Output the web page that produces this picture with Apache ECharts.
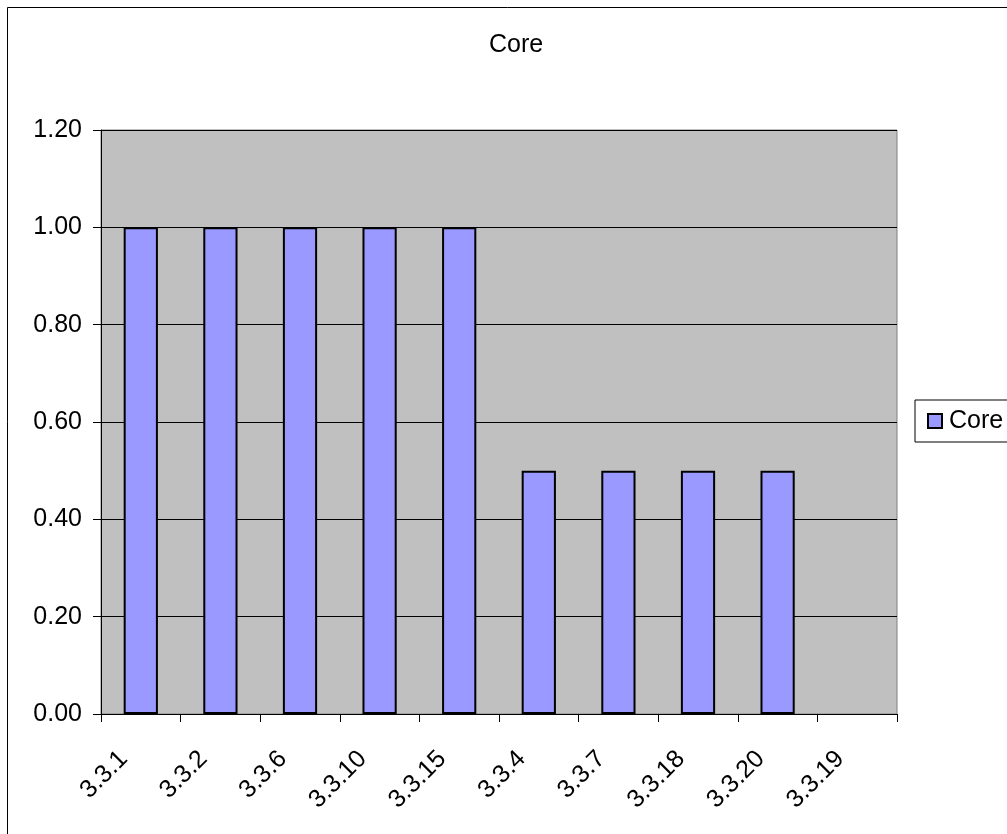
<!DOCTYPE html>
<html>
<head>
<meta charset="utf-8">
<script src="https://cdn.jsdelivr.net/npm/echarts@6/dist/echarts.min.js"></script>
<style>
html,body{margin:0;padding:0;background:#fff;}
#chart{width:1007px;height:834px;}
</style>
</head>
<body>
<div id="chart"></div>
<script>
const categories = ['3.3.1','3.3.2','3.3.6','3.3.10','3.3.15','3.3.4','3.3.7','3.3.18','3.3.20','3.3.19'];
const coreValues = [1.00, 1.00, 1.00, 1.00, 1.00, 0.50, 0.50, 0.50, 0.50, null];
const seriesName = 'Core';
const chartTitle = 'Core';

const FONT = '"Liberation Sans", Arial, sans-serif';
const chart = echarts.init(document.getElementById('chart'), null, {renderer: 'canvas'});
chart.setOption({
  animation: false,
  backgroundColor: '#ffffff',
  graphic: [{
    type: 'rect',
    shape: {x: 7.5, y: 7.5, width: 1200, height: 1000},
    style: {fill: 'none', stroke: '#000', lineWidth: 1},
    z: -1
  }],
  title: {
    text: chartTitle,
    left: 484,
    top: 28,
    textStyle: {fontFamily: FONT, fontSize: 25, fontWeight: 'normal', color: '#000'}
  },
  legend: {
    data: [seriesName],
    left: 915,
    top: 400,
    orient: 'vertical',
    padding: [7, 40, 7, 12],
    borderColor: '#000',
    borderWidth: 1,
    backgroundColor: '#fff',
    itemWidth: 14,
    itemHeight: 14,
    itemGap: 0,
    icon: 'rect',
    textStyle: {fontFamily: FONT, fontSize: 25, color: '#000', lineHeight: 28, padding: [0, 0, 0, 2]}
  },
  grid: {
    left: 101, top: 130, right: 110, bottom: 120,
    show: true,
    backgroundColor: '#C0C0C0',
    borderColor: '#808080',
    borderWidth: 1
  },
  xAxis: {
    type: 'category',
    data: categories,
    axisLine: {lineStyle: {color: '#000', width: 1}},
    axisTick: {show: true, length: 8, lineStyle: {color: '#000'}},
    axisLabel: {rotate: 45, margin: 24, padding: [0, 24, 0, 0], fontFamily: FONT, fontSize: 25, color: '#000'}
  },
  yAxis: {
    type: 'value',
    min: 0, max: 1.2, interval: 0.2,
    axisLine: {show: true, lineStyle: {color: '#000', width: 1}},
    axisTick: {show: true, length: 8, lineStyle: {color: '#000'}},
    splitLine: {show: true, lineStyle: {color: '#000', width: 1}},
    axisLabel: {margin: 19, fontFamily: FONT, fontSize: 25, color: '#000', formatter: v => v.toFixed(2)}
  },
  series: [{
    name: seriesName,
    type: 'bar',
    data: coreValues,
    barWidth: '43%',
    itemStyle: {color: '#9999FF', borderColor: '#000', borderWidth: 2}
  }]
});
</script>
</body>
</html>
